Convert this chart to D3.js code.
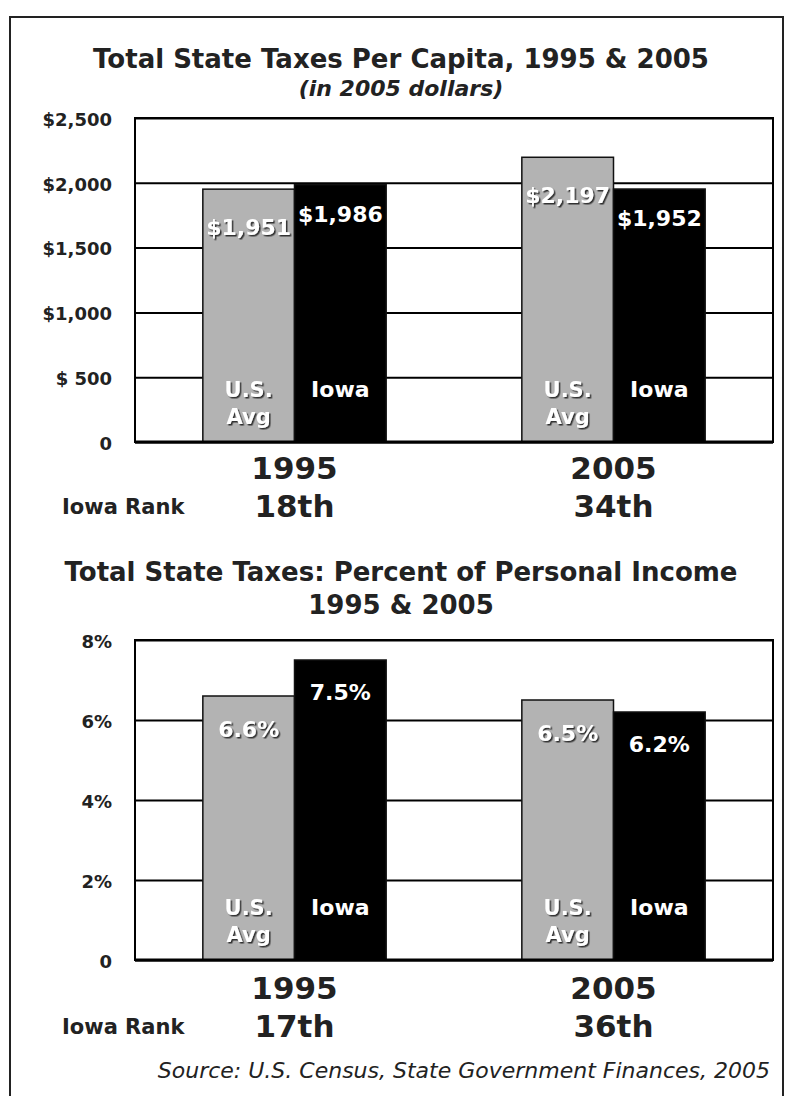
<!DOCTYPE html>
<html>
<head>
<meta charset="utf-8">
<script src="https://cdn.jsdelivr.net/npm/d3@7"></script>
<style>
  body { margin: 0; background: #fff; }
  svg text { font-family: "DejaVu Sans", Verdana, sans-serif; font-weight: bold; fill: #222; }
</style>
</head>
<body>
<div id="chart"></div>
<script>
var W = 789, H = 1096;

// data
var years = ["1995", "2005"];
var series = ["U.S. Avg", "Iowa"];
var perCapitaUS = [1951, 2197];
var perCapitaIowa = [1986, 1952];
var perCapitaTicks = [0, 500, 1000, 1500, 2000, 2500];
var perCapitaTickLabels = ["0", "$ 500", "$1,000", "$1,500", "$2,000", "$2,500"];
var perCapitaLabels = [["$1,951", "$1,986"], ["$2,197", "$1,952"]];
var perCapitaRanks = ["18th", "34th"];

var pctUS = [6.6, 6.5];
var pctIowa = [7.5, 6.2];
var pctTicks = [0, 2, 4, 6, 8];
var pctTickLabels = ["0", "2%", "4%", "6%", "8%"];
var pctLabels = [["6.6%", "7.5%"], ["6.5%", "6.2%"]];
var pctRanks = ["17th", "36th"];

var colors = ["#b3b3b3", "#000000"];

var svg = d3.select("#chart").append("svg")
  .attr("width", W)
  .attr("height", H);

var defs = svg.append("defs");
var f = defs.append("filter").attr("id", "shadow")
  .attr("x", "-20%").attr("y", "-20%").attr("width", "140%").attr("height", "140%");
f.append("feDropShadow")
  .attr("dx", 1.5).attr("dy", 1.5).attr("stdDeviation", 0.3)
  .attr("flood-color", "#333").attr("flood-opacity", 1);

// outer frame
svg.append("rect")
  .attr("x", 10).attr("y", 17)
  .attr("width", 773).attr("height", H)
  .attr("fill", "none").attr("stroke", "#222").attr("stroke-width", 2);

function drawChart(opt) {
  var g = svg.append("g");
  var left = 135, right = 773;

  var y = d3.scaleLinear()
    .domain([0, opt.max])
    .range([opt.bottom, opt.top]);

  var x0 = d3.scaleBand()
    .domain(years)
    .range([left, right]);

  var x1 = d3.scaleBand()
    .domain(series)
    .range([0, x0.bandwidth()])
    .paddingOuter(0.74);

  // titles
  opt.titles.forEach(function(t) {
    g.append("text")
      .attr("x", 401).attr("y", t.y)
      .attr("text-anchor", "middle")
      .style("font-size", t.size + "px")
      .style("font-style", t.italic ? "italic" : "normal")
      .text(t.text);
  });

  // grid
  var yAxis = d3.axisLeft(y)
    .tickValues(opt.ticks)
    .tickSize(-(right - left))
    .tickFormat(function(d, i) { return opt.tickLabels[i]; });

  var ax = g.append("g")
    .attr("transform", "translate(" + left + ",0)")
    .call(yAxis);
  ax.select(".domain").remove();
  ax.selectAll(".tick line").attr("stroke", "#000").attr("stroke-width", 2);
  ax.selectAll(".tick text")
    .attr("x", -23)
    .attr("dy", "0.4em")
    .style("font-size", "18px")
    .style("font-family", "\"DejaVu Sans\", Verdana, sans-serif")
    .style("font-weight", "bold")
    .attr("fill", "#222");

  // plot frame
  g.append("rect")
    .attr("x", left).attr("y", opt.top)
    .attr("width", right - left).attr("height", opt.bottom - opt.top)
    .attr("fill", "none").attr("stroke", "#000").attr("stroke-width", 2);

  // bars
  var rows = years.map(function(yr, i) {
    return { year: yr, values: [opt.us[i], opt.iowa[i]], labels: opt.labels[i] };
  });

  var grp = g.selectAll(".grp")
    .data(rows)
    .enter().append("g")
    .attr("transform", function(d) { return "translate(" + x0(d.year) + ",0)"; });

  grp.selectAll("rect")
    .data(function(d) { return d.values.map(function(v, j) { return { s: series[j], v: v, j: j }; }); })
    .enter().append("rect")
    .attr("x", function(d) { return x1(d.s); })
    .attr("width", x1.bandwidth())
    .attr("y", function(d) { return y(d.v); })
    .attr("height", function(d) { return opt.bottom - y(d.v); })
    .attr("fill", function(d) { return colors[d.j]; })
    .attr("stroke", "#111")
    .attr("stroke-width", 1.5);

  // value labels
  grp.selectAll(".val")
    .data(function(d) { return d.values.map(function(v, j) { return { s: series[j], v: v, j: j, label: d.labels[j] }; }); })
    .enter().append("text")
    .attr("x", function(d) { return x1(d.s) + x1.bandwidth() / 2; })
    .attr("y", function(d) { return y(d.v) + opt.labelOffset[d.j]; })
    .attr("text-anchor", "middle")
    .style("font-size", "22px")
    .style("fill", "#fff")
    .attr("filter", function(d) { return d.j === 0 ? "url(#shadow)" : null; })
    .text(function(d) { return d.label; });

  // series names inside bars
  grp.each(function() {
    var gg = d3.select(this);
    var cx0 = x1(series[0]) + x1.bandwidth() / 2;
    var cx1 = x1(series[1]) + x1.bandwidth() / 2;
    gg.append("text").attr("x", cx0).attr("y", opt.bottom - 45)
      .attr("text-anchor", "middle").style("font-size", "21px").style("fill", "#fff")
      .attr("filter", "url(#shadow)").text("U.S.");
    gg.append("text").attr("x", cx0).attr("y", opt.bottom - 18)
      .attr("text-anchor", "middle").style("font-size", "21px").style("fill", "#fff")
      .attr("filter", "url(#shadow)").text("Avg");
    gg.append("text").attr("x", cx1).attr("y", opt.bottom - 45)
      .attr("text-anchor", "middle").style("font-size", "22px").style("fill", "#fff")
      .text("Iowa");
  });

  // thick baseline
  g.append("line")
    .attr("x1", left).attr("x2", right)
    .attr("y1", y(0)).attr("y2", y(0))
    .attr("stroke", "#000").attr("stroke-width", 3);

  // year labels and ranks
  years.forEach(function(yr, i) {
    var cx = x0(yr) + x0.bandwidth() / 2;
    g.append("text").attr("x", cx).attr("y", opt.bottom + opt.yearDy)
      .attr("text-anchor", "middle").style("font-size", "31px").text(yr);
    g.append("text").attr("x", cx).attr("y", opt.bottom + opt.rankDy)
      .attr("text-anchor", "middle").style("font-size", "31px").text(opt.ranks[i]);
  });
  g.append("text").attr("x", 62).attr("y", opt.bottom + opt.rankDy - 3)
    .style("font-size", "21px").text("Iowa Rank");
}

drawChart({
  max: 2500, top: 118, bottom: 442,
  us: perCapitaUS, iowa: perCapitaIowa,
  ticks: perCapitaTicks, tickLabels: perCapitaTickLabels,
  labels: perCapitaLabels, ranks: perCapitaRanks,
  labelOffset: [46, 37],
  yearDy: 37, rankDy: 75,
  titles: [
    { text: "Total State Taxes Per Capita, 1995 & 2005", y: 68, size: 26 },
    { text: "(in 2005 dollars)", y: 96, size: 22, italic: true }
  ]
});

drawChart({
  max: 8, top: 640, bottom: 960,
  us: pctUS, iowa: pctIowa,
  ticks: pctTicks, tickLabels: pctTickLabels,
  labels: pctLabels, ranks: pctRanks,
  labelOffset: [41, 40],
  yearDy: 39, rankDy: 77,
  titles: [
    { text: "Total State Taxes: Percent of Personal Income", y: 581, size: 26 },
    { text: "1995 & 2005", y: 614, size: 26 }
  ]
});

svg.append("text")
  .attr("x", 770).attr("y", 1078)
  .attr("text-anchor", "end")
  .style("font-size", "22px")
  .style("font-weight", "normal")
  .style("font-style", "italic")
  .text("Source: U.S. Census, State Government Finances, 2005");
</script>
</body>
</html>
